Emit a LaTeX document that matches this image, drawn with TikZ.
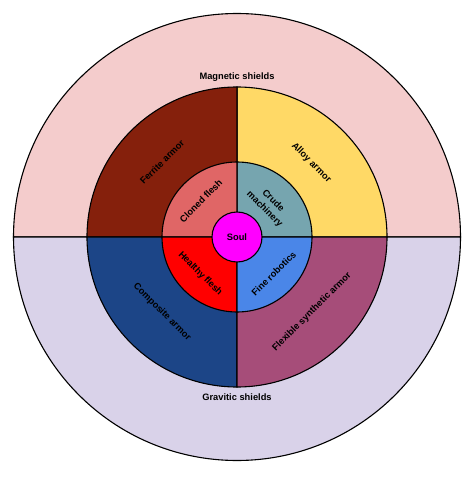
\documentclass[tikz,border=0pt]{standalone}
\usepackage{fontspec}
\setmainfont{Liberation Sans}
\definecolor{magtop}{HTML}{F4CCCC}
\definecolor{gravbot}{HTML}{D9D2E9}
\definecolor{ferrite}{HTML}{85200C}
\definecolor{alloy}{HTML}{FFD966}
\definecolor{composite}{HTML}{1C4587}
\definecolor{flexible}{HTML}{A64D79}
\definecolor{cloned}{HTML}{E06666}
\definecolor{crude}{HTML}{76A5AF}
\definecolor{healthy}{HTML}{FF0000}
\definecolor{robotics}{HTML}{4A86E8}
\definecolor{soul}{HTML}{FF00FF}
\begin{document}
\begin{tikzpicture}
	[x=1pt,y=1pt,sector/.style={draw=black,line width=1.1pt},
	lbl/.style={font=\bfseries\fontsize{9.3}{12}\selectfont,text=black,align=center}]
	\useasboundingbox (-237,-242) rectangle (237,237);
	% shields
	\filldraw[sector,fill=magtop] (0,0) -- (0:223.5) arc (0:180:223.5) -- cycle;
	\filldraw[sector,fill=gravbot] (0,0) -- (180:223.5) arc (180:360:223.5) -- cycle;
	% armor
	\filldraw[sector,fill=alloy] (0,0) -- (0:150) arc (0:90:150) -- cycle;
	\filldraw[sector,fill=ferrite] (0,0) -- (90:150) arc (90:180:150) -- cycle;
	\filldraw[sector,fill=composite] (0,0) -- (180:150) arc (180:270:150) -- cycle;
	\filldraw[sector,fill=flexible] (0,0) -- (270:150) arc (270:360:150) -- cycle;
	% body
	\filldraw[sector,fill=crude] (0,0) -- (0:75) arc (0:90:75) -- cycle;
	\filldraw[sector,fill=cloned] (0,0) -- (90:75) arc (90:180:75) -- cycle;
	\filldraw[sector,fill=healthy] (0,0) -- (180:75) arc (180:270:75) -- cycle;
	\filldraw[sector,fill=robotics] (0,0) -- (270:75) arc (270:360:75) -- cycle;
	\node[sector,circle,fill=soul,minimum size=50pt,inner sep=0pt,lbl,name=soul] at (0,0) {Soul};
	% labels
	\node[lbl,name=magnetic] at (0,160) {Magnetic shields};
	\node[lbl,name=gravitic] at (0,-160) {Gravitic shields};
	\node[lbl,rotate=45,name=ferritelbl] at (135:106) {Ferrite armor};
	\node[lbl,rotate=-45,name=alloylbl] at (45:105) {Alloy armor};
	\node[lbl,rotate=-45,name=compositelbl] at (225:106) {Composite armor};
	\node[lbl,rotate=45,name=flexiblelbl] at (315:106) {Flexible synthetic armor};
	\node[lbl,rotate=45,name=clonedlbl] at (135:51) {Cloned flesh};
	\node[lbl,rotate=-45,name=crudelbl] at (45:45) {Crude\\machinery};
	\node[lbl,rotate=-45,name=healthylbl] at (225:52) {Healthy flesh};
	\node[lbl,rotate=45,name=roboticslbl] at (315:52) {Fine robotics};
\end{tikzpicture}
\end{document}
